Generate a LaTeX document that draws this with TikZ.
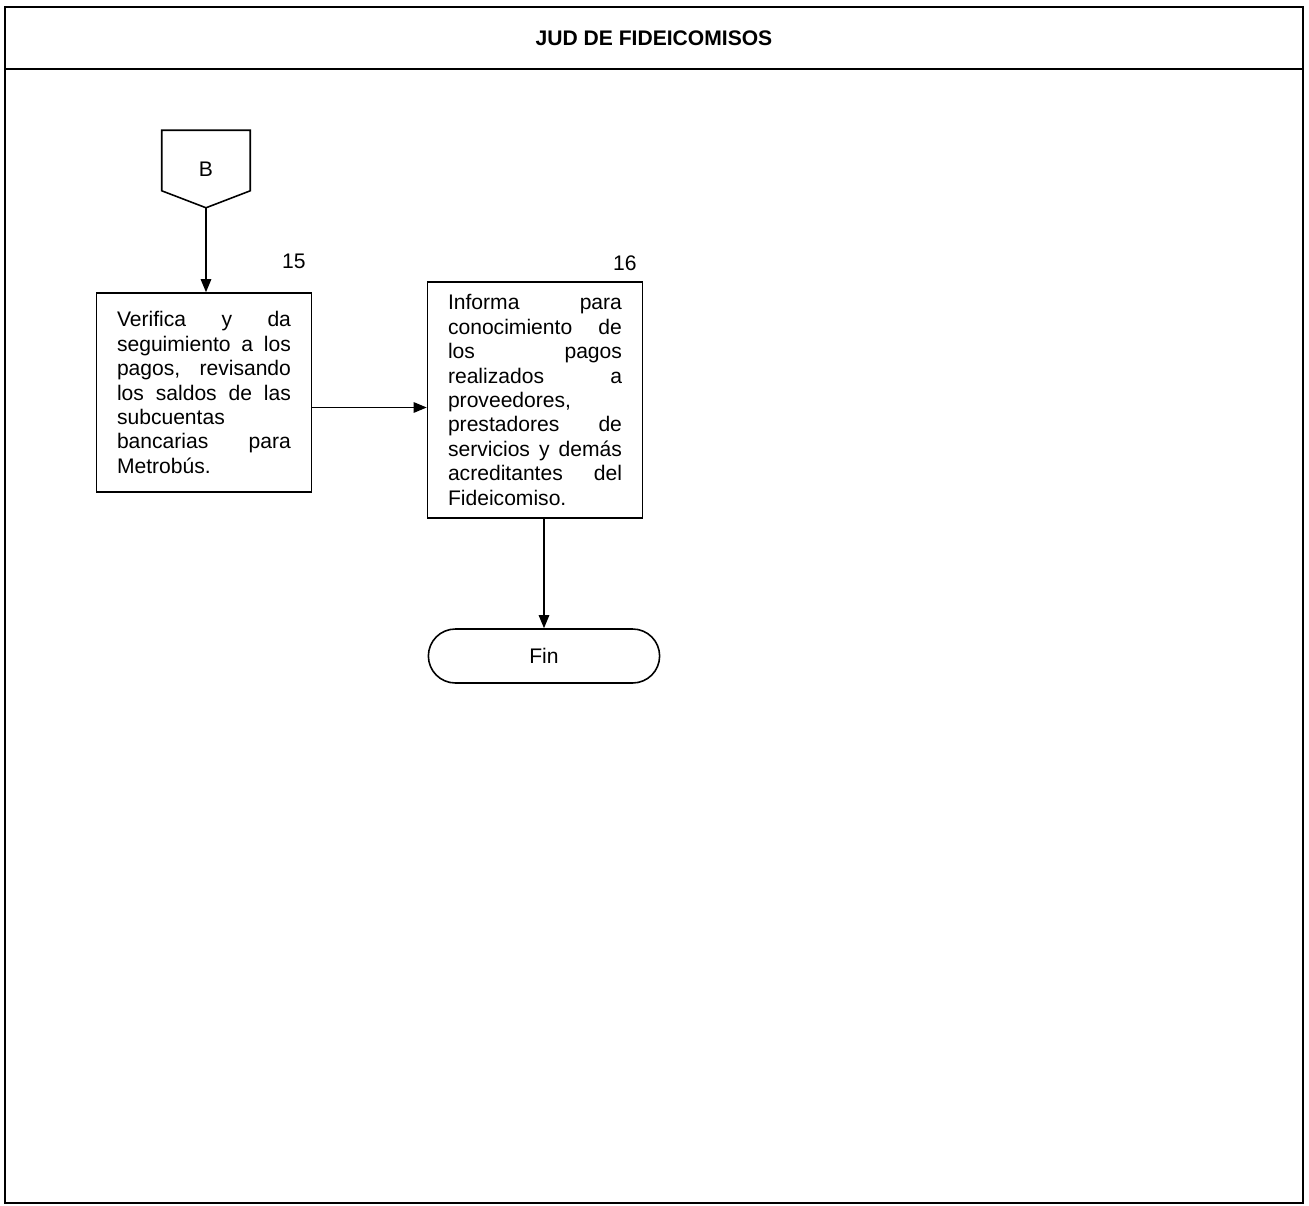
\documentclass[tikz,border=0pt]{standalone}
\usepackage{fontspec}
\setmainfont{Liberation Sans}
\usetikzlibrary{arrows.meta,positioning,shapes.misc}

\begin{document}
\begin{tikzpicture}
    [x=0.02cm, y=-0.02cm, line width=0.9pt,
    font=\fontsize{12}{13.9}\selectfont,
    flecha/.style={-{Triangle[length=7.5pt,width=6pt]}},
    titulo/.style={draw, line width=1pt, minimum width=25.96cm, minimum height=1.24cm, font=\fontsize{12}{14}\selectfont\bfseries},
    caja/.style={draw, text width=3.48cm, align=justify, inner xsep=0.41cm, inner ysep=0pt},
    fin/.style={draw, rounded rectangle, minimum width=4.86cm, minimum height=1.08cm}]
  \useasboundingbox (0,0) rectangle (1309,1206);
  \draw [line width=1pt] (5,7) rectangle (1303,1203);
  \node [titulo] (jud) at (654,38) {JUD DE FIDEICOMISOS};

  % conector fuera de pagina
  \node [minimum width=1.74cm, minimum height=1.52cm, inner sep=0pt] (conB) at (206,169) {B};
  \draw (conB.north west) -- (conB.north east) -- ([yshift=0.34cm]conB.south east)
    -- (conB.south) -- ([yshift=0.34cm]conB.south west) -- cycle;

  \node [caja, minimum height=3.98cm] (act15) at (204,392.5)
    {\hyphenpenalty=10000 Verifica y da\linebreak seguimiento a los\linebreak pagos, revisando\linebreak los saldos de las\linebreak subcuentas\linebreak bancarias para\linebreak Metrobús.};
  \node [caja, minimum height=4.72cm] (act16) at (535,400)
    {\hyphenpenalty=10000 Informa para\linebreak conocimiento de\linebreak los pagos\linebreak realizados a\linebreak proveedores,\linebreak prestadores de\linebreak servicios y demás\linebreak acreditantes del\linebreak Fideicomiso.};
  \node (n15) [above left=0.34cm and 0cm of act15.north east] {15};
  \node (n16) [above left=0.08cm and 0cm of act16.north east] {16};
  \node [fin] (termino) at (544,656) {Fin};

  \draw [flecha] (conB.south) -- (conB.south |- act15.north);
  \draw [flecha] ([yshift=-0.3cm]act15.east) -- ([yshift=-0.3cm]act15.east -| act16.west);
  \draw [flecha] (termino.north |- act16.south) -- (termino.north);
\end{tikzpicture}
\end{document}
